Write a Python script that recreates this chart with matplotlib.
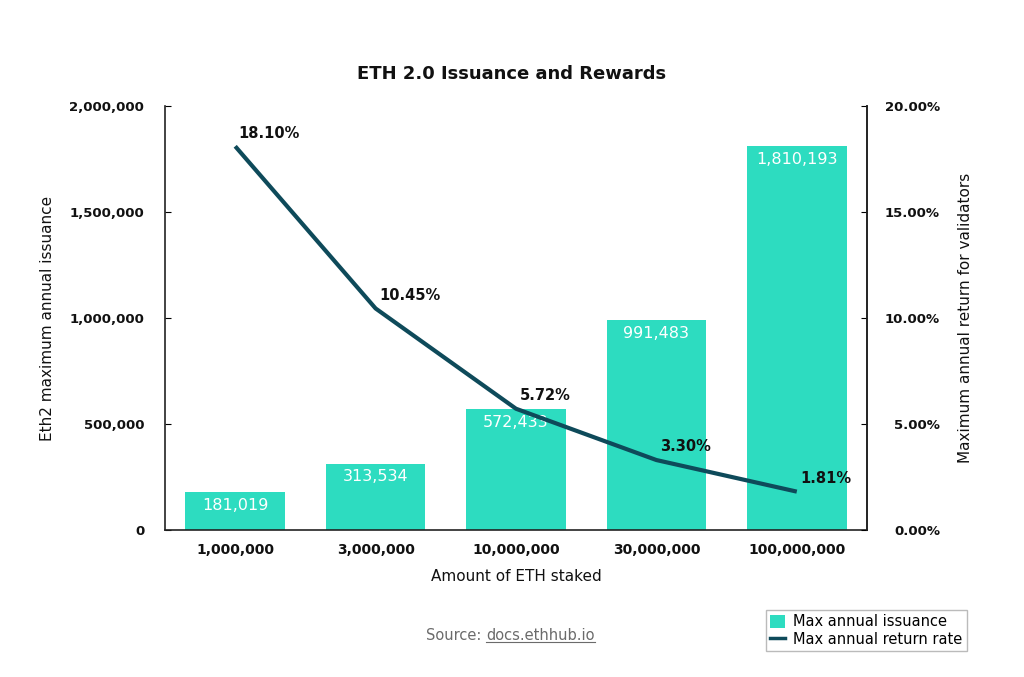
import matplotlib
matplotlib.use("Agg")
import matplotlib.pyplot as plt
from matplotlib.lines import Line2D
from matplotlib.patches import Patch
from matplotlib.ticker import FuncFormatter

plt.rcParams["font.family"] = ["DejaVu Sans"]

staked = ["1,000,000", "3,000,000", "10,000,000", "30,000,000", "100,000,000"]
issuance = [181019, 313534, 572433, 991483, 1810193]
returns = [18.10, 10.45, 5.72, 3.30, 1.81]

BAR = "#2ddcc0"
LINE = "#0e4a5a"

fig = plt.figure(figsize=(10.24, 6.77), dpi=100, facecolor="white")
ax = fig.add_axes([165 / 1024, 1 - 530 / 677, 702 / 1024, 424 / 677])
ax2 = ax.twinx()

x = list(range(len(staked)))
bars = ax.bar(x, issuance, width=0.71, color=BAR, zorder=2)
ax.set_xlim(-0.5, len(staked) - 0.5)
ax.set_ylim(0, 2_000_000)
ax.set_yticks([0, 500_000, 1_000_000, 1_500_000, 2_000_000])
ax.yaxis.set_major_formatter(FuncFormatter(lambda v, _: f"{v:,.0f}"))
ax.set_xticks(x)
ax.set_xticklabels(staked)

for b, v in zip(bars, issuance):
    ax.text(b.get_x() + b.get_width() / 2, v - 28_000, f"{v:,}",
            ha="center", va="top", color="white", fontsize=11.5, zorder=3)

ax2.plot(x, returns, color=LINE, linewidth=3, zorder=4, solid_capstyle="butt")
ax2.set_ylim(0, 20)
ax2.set_yticks([0, 5, 10, 15, 20])
ax2.yaxis.set_major_formatter(FuncFormatter(lambda v, _: f"{v:.2f}%"))
for xi, r in zip(x, returns):
    ax2.annotate(f"{r:.2f}%", (xi, r), xytext=(2.5, 4), textcoords="offset points",
                 ha="left", va="bottom", fontsize=10.5, fontweight="bold",
                 color="#111111")

for a in (ax, ax2):
    a.spines["top"].set_visible(False)
    for s in a.spines.values():
        s.set_linewidth(1.2)
        s.set_color("#222222")
ax2.spines["left"].set_visible(False)
ax2.spines["bottom"].set_visible(False)

ax.tick_params(axis="y", direction="in", length=4, pad=15, labelsize=9.5)
ax.tick_params(axis="x", length=0, pad=9, labelsize=10)
ax2.tick_params(axis="y", direction="in", length=4, pad=52.5, labelsize=9.5)
for lab in ax2.get_yticklabels():
    lab.set_horizontalalignment("right")
for lab in ax.get_xticklabels() + ax.get_yticklabels() + ax2.get_yticklabels():
    lab.set_fontweight("bold")
    lab.set_color("#111111")

ax.set_xlabel("Amount of ETH staked", fontsize=11, labelpad=9, color="#111111")
ax.set_ylabel("Eth2 maximum annual issuance", fontsize=11, labelpad=10,
              color="#111111")
ax2.set_ylabel("Maximum annual return for validators", fontsize=11,
               labelpad=13, color="#111111")

fig.text(0.5, 1 - 74 / 677, "ETH 2.0 Issuance and Rewards", ha="center",
         va="center", fontsize=13, fontweight="bold", color="#111111")

src1 = fig.text(426 / 1024, 1 - 635 / 677, "Source: ", ha="left",
                va="center", fontsize=10.5, color="#6b6b6b")
fig.canvas.draw()
bb = src1.get_window_extent()
src2 = fig.text(bb.x1 / 1024, 1 - 635 / 677, "docs.ethhub.io", ha="left",
                va="center", fontsize=10.5, color="#6b6b6b")
fig.canvas.draw()
bb2 = src2.get_window_extent()
uy = (bb2.y0 + 1) / 677
fig.add_artist(Line2D([bb2.x0 / 1024, bb2.x1 / 1024], [uy, uy],
                      color="#6b6b6b", linewidth=0.8))

handles = [Patch(facecolor=BAR, edgecolor="none", label="Max annual issuance"),
           Line2D([0], [0], color=LINE, linewidth=2.5,
                  label="Max annual return rate")]
fig.legend(handles=handles, loc="lower right",
           bbox_to_anchor=(967 / 1024, 1 - 651 / 677), fontsize=10.5,
           frameon=True, fancybox=False, edgecolor="#aaaaaa",
           handlelength=1.0, handleheight=1.0, handletextpad=0.6,
           borderpad=0.3, labelspacing=0.15, borderaxespad=0)

fig.savefig("out.png", dpi=100, facecolor="white")
